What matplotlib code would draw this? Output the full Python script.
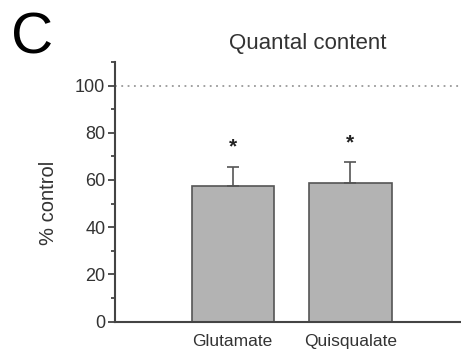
import matplotlib
matplotlib.use("Agg")
import matplotlib.pyplot as plt
import numpy as np
from matplotlib.ticker import MultipleLocator

plt.rcParams['font.family'] = ['Liberation Sans', 'DejaVu Sans']

# data
conditions = ['Glutamate', 'Quisqualate']
mean_pct = [57.6, 58.8]
sem_pct = [8.0, 8.7]
star_y = [74.0, 75.8]
control_level = 100

text_col = '#333333'

fig = plt.figure(figsize=(4.61, 3.5), dpi=100)
ax = fig.add_axes([0.2495, 0.081, 0.7505, 0.742])

x = np.arange(1, len(conditions) + 1)
ax.bar(x, mean_pct, width=0.70, color='#b3b3b3', edgecolor='#555555',
       linewidth=1.2, zorder=2)
ax.errorbar(x, mean_pct, yerr=[np.zeros(len(sem_pct)), sem_pct], fmt='none',
            ecolor='#555555', elinewidth=1.2, capsize=4, capthick=1.2, zorder=3)
for xi, yi in zip(x, star_y):
    ax.text(xi, yi, '*', ha='center', va='center', fontsize=15,
            fontweight='bold', color='#222222')

ax.axhline(control_level, color='#999999', linestyle=(0, (1, 2.5)), linewidth=1.3, zorder=1)

ax.set_xlim(0.0, 2.94)
ax.set_ylim(0, 110)
ax.set_xticks(x)
ax.set_xticklabels(conditions, fontsize=12.5, color=text_col)
ax.tick_params(axis='x', length=0, pad=9)
ax.yaxis.set_major_locator(MultipleLocator(20))
ax.yaxis.set_minor_locator(MultipleLocator(10))
ax.tick_params(axis='y', which='major', length=5, width=1.3, pad=2,
               labelsize=13, labelcolor=text_col, color='#444444')
ax.tick_params(axis='y', which='minor', length=3, width=1.3, color='#444444')

for side in ['top', 'right']:
    ax.spines[side].set_visible(False)
for side in ['left', 'bottom']:
    ax.spines[side].set_linewidth(1.5)
    ax.spines[side].set_color('#444444')

ax.set_ylabel('% control', fontsize=14.5, color=text_col)
ax.yaxis.set_label_coords(-0.164, 0.457)

fig.text(308 / 461, 1 - 44 / 350, 'Quantal content', ha='center', va='center',
         fontsize=16, color=text_col)
fig.text(11 / 461, 1 - 38 / 350, 'C', ha='left', va='center', fontsize=42, color='black')

fig.savefig('out.png', dpi=100)
